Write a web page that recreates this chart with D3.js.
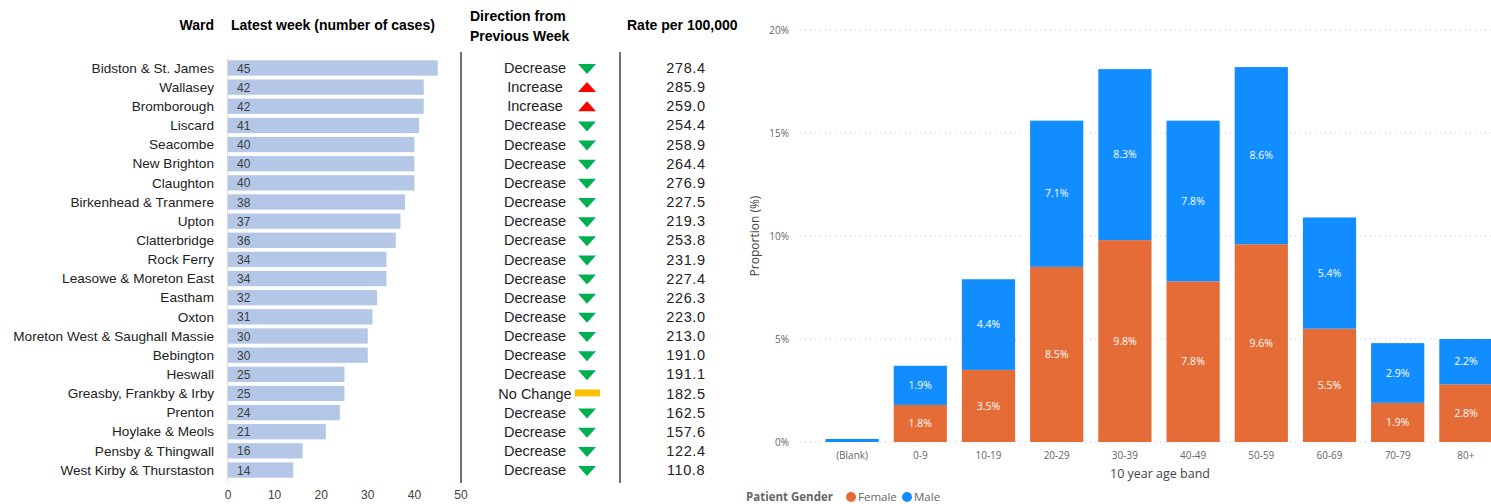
<!DOCTYPE html>
<html>
<head>
<meta charset="utf-8">
<script src="https://cdn.jsdelivr.net/npm/d3@7"></script>
<style>
  body { margin: 0; background: #fff; }
  svg { display: block; }
</style>
</head>
<body>
<svg id="chart" width="1491" height="504"></svg>
<script>
// ward table
var wards = ["Bidston & St. James", "Wallasey", "Bromborough", "Liscard", "Seacombe", "New Brighton",
  "Claughton", "Birkenhead & Tranmere", "Upton", "Clatterbridge", "Rock Ferry", "Leasowe & Moreton East",
  "Eastham", "Oxton", "Moreton West & Saughall Massie", "Bebington", "Heswall", "Greasby, Frankby & Irby",
  "Prenton", "Hoylake & Meols", "Pensby & Thingwall", "West Kirby & Thurstaston"]
var cases = [45, 42, 42, 41, 40, 40, 40, 38, 37, 36, 34, 34, 32, 31, 30, 30, 25, 25, 24, 21, 16, 14]
var direction = ["Decrease", "Increase", "Increase", "Decrease", "Decrease", "Decrease", "Decrease",
  "Decrease", "Decrease", "Decrease", "Decrease", "Decrease", "Decrease", "Decrease", "Decrease",
  "Decrease", "Decrease", "No Change", "Decrease", "Decrease", "Decrease", "Decrease"]
var rates = [278.4, 285.9, 259.0, 254.4, 258.9, 264.4, 276.9, 227.5, 219.3, 253.8, 231.9, 227.4,
  226.3, 223.0, 213.0, 191.0, 191.1, 182.5, 162.5, 157.6, 122.4, 110.8]
var caseTicks = [0, 10, 20, 30, 40, 50]

// age band chart
var ageBands = ["(Blank)", "0-9", "10-19", "20-29", "30-39", "40-49", "50-59", "60-69", "70-79", "80+"]
var female = [0, 1.8, 3.5, 8.5, 9.8, 7.8, 9.6, 5.5, 1.9, 2.8]
var male = [0.15, 1.9, 4.4, 7.1, 8.3, 7.8, 8.6, 5.4, 2.9, 2.2]
var pctTicks = [0, 5, 10, 15, 20]

const svg = d3.select('#chart')
const leftFont = "'Liberation Sans', Arial, sans-serif"
const rightFont = "'Open Sans', 'Noto Sans', sans-serif"

// ---------- left: ward table ----------
const yRow = d3.scaleBand()
  .domain(wards)
  .range([58.4, 479.6])
  .paddingInner(0.2)
  .paddingOuter(0.1)

const xCases = d3.scaleLinear()
  .domain([0, 50])
  .range([228, 461])

const left = svg.append('g').style('font-family', leftFont)

// headers
const hdr = left.append('g').style('font-weight', 'bold').style('font-size', '14px').attr('fill', '#000')
hdr.append('text').attr('x', 214).attr('y', 30).attr('text-anchor', 'end').text('Ward')
hdr.append('text').attr('x', 231).attr('y', 30).text('Latest week (number of cases)')
hdr.append('text').attr('x', 470).attr('y', 21).text('Direction from')
hdr.append('text').attr('x', 470).attr('y', 41).text('Previous Week')
hdr.append('text').attr('x', 627).attr('y', 30).text('Rate per 100,000')

// ward names
left.append('g').selectAll('text')
  .data(wards)
  .enter()
  .append('text')
  .attr('x', 214)
  .attr('y', d => yRow(d) + yRow.bandwidth() / 2)
  .attr('dy', '0.35em')
  .attr('text-anchor', 'end')
  .style('font-size', '13.6px')
  .attr('fill', '#222')
  .text(d => d)

// faint axis line
left.append('line')
  .attr('x1', xCases(0) - 0.5).attr('x2', xCases(0) - 0.5)
  .attr('y1', 58).attr('y2', 481)
  .attr('stroke', '#d9d9d9')

// bars
const rows = left.append('g').selectAll('g')
  .data(wards)
  .enter()
  .append('g')

rows.append('rect')
  .attr('x', xCases(0))
  .attr('y', d => yRow(d))
  .attr('width', (d, i) => xCases(cases[i]) - xCases(0))
  .attr('height', yRow.bandwidth())
  .attr('fill', '#b4c7e7')

rows.append('text')
  .attr('x', xCases(0) + 9)
  .attr('y', d => yRow(d) + yRow.bandwidth() / 2)
  .attr('dy', '0.38em')
  .style('font-size', '12px')
  .attr('fill', '#404040')
  .text((d, i) => cases[i])

// x axis ticks
left.append('g').selectAll('text')
  .data(caseTicks)
  .enter()
  .append('text')
  .attr('x', d => xCases(d))
  .attr('y', 499)
  .attr('text-anchor', 'middle')
  .style('font-size', '12px')
  .attr('fill', '#404040')
  .text(d => d)

// divider lines
left.append('line').attr('x1', 461).attr('x2', 461).attr('y1', 52).attr('y2', 483)
  .attr('stroke', '#404040').attr('stroke-width', 1.5)
left.append('line').attr('x1', 620).attr('x2', 620).attr('y1', 52).attr('y2', 483)
  .attr('stroke', '#404040').attr('stroke-width', 1.5)

// direction text + icons
const dirRows = left.append('g').selectAll('g')
  .data(wards)
  .enter()
  .append('g')
  .attr('transform', d => 'translate(0,' + (yRow(d) + yRow.bandwidth() / 2) + ')')

dirRows.append('text')
  .attr('x', 535)
  .attr('dy', '0.35em')
  .attr('text-anchor', 'middle')
  .style('font-size', '14.5px')
  .attr('fill', '#222')
  .text((d, i) => direction[i])

dirRows.append('path')
  .attr('d', (d, i) => {
    if (direction[i] == 'Decrease') return 'M578,-4 L596,-4 L587,6 Z'
    if (direction[i] == 'Increase') return 'M578,5 L596,5 L587,-5 Z'
    return 'M575,-4 L600,-4 L600,3 L575,3 Z'
  })
  .attr('fill', (d, i) => direction[i] == 'Decrease' ? '#00b050' : (direction[i] == 'Increase' ? '#ff0000' : '#ffc000'))

dirRows.append('text')
  .attr('x', 686)
  .attr('dy', '0.35em')
  .attr('text-anchor', 'middle')
  .style('font-size', '14.5px')
  .style('letter-spacing', '0.6px')
  .attr('fill', '#222')
  .text((d, i) => rates[i].toFixed(1))

// ---------- right: age band stacked bars ----------
const xBand = d3.scaleBand()
  .domain(ageBands)
  .range([818, 1500])
  .paddingInner(0.22)
  .paddingOuter(0.11)

const yPct = d3.scaleLinear()
  .domain([0, 20])
  .range([442, 30])

const right = svg.append('g').style('font-family', rightFont)

// dotted gridlines + y tick labels
const grid = right.append('g')
grid.selectAll('line')
  .data(pctTicks)
  .enter()
  .append('line')
  .attr('x1', 800).attr('x2', 1491)
  .attr('y1', d => yPct(d)).attr('y2', d => yPct(d))
  .attr('stroke', '#c8c8c8')
  .attr('stroke-dasharray', '1,4')

grid.selectAll('text')
  .data(pctTicks)
  .enter()
  .append('text')
  .attr('x', 789)
  .attr('y', d => yPct(d))
  .attr('dy', '0.35em')
  .attr('text-anchor', 'end')
  .style('font-size', '10px')
  .attr('fill', '#666')
  .text(d => d + '%')

// stacked series
const stackData = ageBands.map((b, i) => ({ band: b, Female: female[i], Male: male[i] }))
const series = d3.stack().keys(['Female', 'Male'])(stackData)
const color = d3.scaleOrdinal().domain(['Female', 'Male']).range(['#e66c37', '#118dff'])

const layers = right.append('g').selectAll('g')
  .data(series)
  .enter()
  .append('g')
  .attr('fill', d => color(d.key))

layers.selectAll('rect')
  .data(d => d)
  .enter()
  .append('rect')
  .attr('x', d => xBand(d.data.band))
  .attr('y', d => yPct(d[1]))
  .attr('width', xBand.bandwidth())
  .attr('height', d => yPct(d[0]) - yPct(d[1]))

layers.selectAll('text')
  .data(d => d.filter(s => s[1] - s[0] >= 1))
  .enter()
  .append('text')
  .attr('x', d => xBand(d.data.band) + xBand.bandwidth() / 2)
  .attr('y', d => yPct((d[0] + d[1]) / 2))
  .attr('dy', '0.35em')
  .attr('text-anchor', 'middle')
  .style('font-size', '10.5px')
  .attr('fill', '#fff')
  .text(d => (d[1] - d[0]).toFixed(1) + '%')

// x axis labels
right.append('g').selectAll('text')
  .data(ageBands)
  .enter()
  .append('text')
  .attr('x', d => xBand(d) + xBand.bandwidth() / 2)
  .attr('y', 455)
  .attr('dy', '0.35em')
  .attr('text-anchor', 'middle')
  .style('font-size', '10px')
  .attr('fill', '#666')
  .text(d => d)

// axis titles
right.append('text')
  .attr('x', 1160).attr('y', 478)
  .attr('text-anchor', 'middle')
  .style('font-size', '12.5px')
  .attr('fill', '#444')
  .text('10 year age band')

right.append('text')
  .attr('transform', 'translate(759,236) rotate(-90)')
  .attr('text-anchor', 'middle')
  .style('font-size', '12px')
  .attr('fill', '#444')
  .text('Proportion (%)')

// legend
const legend = right.append('g').attr('transform', 'translate(746,497)')
legend.append('text')
  .attr('dy', '0.35em')
  .style('font-size', '11.5px')
  .style('font-weight', 'bold')
  .attr('fill', '#666')
  .text('Patient Gender')
const legItems = [['Female', 851], ['Male', 907]]
legItems.forEach(function (it) {
  legend.append('circle').attr('cx', it[1] - 746).attr('cy', 0).attr('r', 5).attr('fill', color(it[0]))
  legend.append('text').attr('x', it[1] - 746 + 7).attr('dy', '0.35em')
    .style('font-size', '11.5px').attr('fill', '#666').text(it[0])
})
</script>
</body>
</html>
